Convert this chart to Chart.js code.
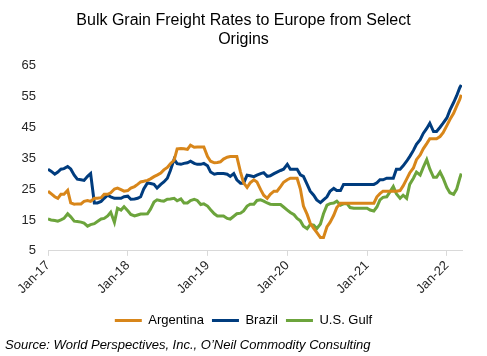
<!DOCTYPE html>
<html><head><meta charset="utf-8">
<script src="https://cdn.jsdelivr.net/npm/chart.js@4/dist/chart.umd.min.js"></script>
<style>
html,body{margin:0;padding:0;background:#fff;}
#wrap{position:relative;width:487px;height:356px;overflow:hidden;}
#c{position:absolute;left:0;top:0;}
#source{position:absolute;left:5px;top:337px;font:italic 13px "Liberation Sans",Arial,sans-serif;color:#000;white-space:nowrap;}
</style></head><body>
<div id="wrap"><canvas id="c" width="487" height="356" style="width:487px;height:356px"></canvas><div id="source">Source: World Perspectives, Inc., O’Neil Commodity Consulting</div></div>
<script>
// Semi-monthly observation dates (1st and 15th), Jan 2017 - Mar 2022, plus last reading
const dates = [];
for (let y = 2017; y <= 2022; y++) {
  for (let m = 1; m <= 12; m++) {
    for (const d of [1, 15]) {
      if (y === 2022 && (m > 3 || (m === 3 && d > 1))) continue;
      dates.push(y + '-' + String(m).padStart(2, '0') + '-' + String(d).padStart(2, '0'));
    }
  }
}
dates.push('2022-03-08');

const argentina = [
  24.3, 23.5, 22.5, 22, 23.3, 23.3, 24.6, 20.5, 20.1, 20.2, 20.2, 21, 21.3, 21, 22, 22, 22.2, 23.3, 23.3, 23.8, 25, 25.3, 24.8, 24.3,
  24.5, 25.3, 25.8, 26.5, 27.3, 27.5, 27.8, 28.3, 29, 29.5, 30.2, 31.2, 32, 33.2, 34.3, 38, 38.1, 38, 37.8, 39.2, 38.5, 38.6, 38.6, 38.6,
  35.5, 34, 33.5, 33.6, 33.8, 34.7, 35.3, 35.5, 35.5, 35.5, 30.5, 27, 25.5, 27, 28, 27.3, 24.8, 23, 22, 23.3, 24.3, 24.3, 25.8, 27.2,
  28, 28.5, 28.5, 28.5, 25, 19.5, 16.8, 14, 12.3, 11, 9.3, 9.3, 12.8, 14.2, 16.5, 19, 20.4, 20.4, 20.4, 20.4, 20.4, 20.4, 20.4, 20.4,
  20.4, 20.4, 20.4, 22.5, 23.5, 24.3, 24.3, 24.3, 24.3, 24.3, 24.5, 26, 28.2, 30.2, 31.8, 34.5, 36, 38, 39.7, 41.3, 41.3, 41.3, 42, 43.2,
  45.5, 47.5, 49.5, 51.8, 54, 55.5
];
const brazil = [
  31.4, 30.8, 29.8, 30.5, 31.4, 31.6, 32.3, 31.5, 29.5, 28.2, 28.0, 27.8, 29.1, 30.0, 20.5, 20.5, 21, 22, 23, 22.5, 22, 22, 22, 22.5,
  22.7, 21.7, 21.8, 22, 22.5, 25, 27, 26.8, 26.5, 25.3, 26.5, 27.3, 28.5, 31, 34.6, 33.2, 33, 33.3, 33.5, 34, 33.3, 33, 33, 33.3,
  32.5, 30.5, 29.8, 30, 30, 30, 29.8, 29.1, 30, 28, 26.9, 26.9, 29.5, 29.3, 29, 29.5, 30, 30.3, 29.1, 29.3, 30, 30.5, 31, 31.4,
  33, 31.4, 31.4, 31.4, 29.6, 29.1, 26.5, 24.3, 23, 21.5, 20.6, 21.5, 22.5, 24.3, 25.2, 24.5, 24.5, 26.5, 26.5, 26.5, 26.5, 26.5, 26.5, 26.5,
  26.5, 26.5, 26.5, 27, 28, 28, 28.5, 28.5, 28.5, 31.4, 31.4, 32.5, 34, 35.5, 37.5, 39.5, 41, 43, 44.6, 46.3, 43.6, 43.6, 45, 46.3,
  48, 50.5, 53, 55.2, 57.8, 58.7
];
const usGulf = [
  15.3, 15, 14.8, 14.6, 15, 15.5, 17, 16, 14.6, 14.5, 14.3, 14, 13, 13.5, 13.8, 14.5, 15.3, 15.5, 16.3, 17.5, 14.2, 18.8, 18.2, 19.3,
  18, 16.8, 16.3, 16.6, 16.9, 16.9, 17, 18.5, 20.8, 21.5, 21.2, 21.1, 21.7, 21.8, 22, 21.2, 21.8, 20.5, 20.5, 21.3, 21.7, 21.3, 20, 20.2,
  19.5, 18.3, 17, 16.3, 16.3, 16.3, 15.5, 15.3, 16.2, 17, 17.2, 17.9, 19.5, 20.1, 20.1, 21.3, 21.5, 21.1, 20.5, 20.1, 20, 20, 20, 19.2,
  18.2, 17.4, 16.7, 15.5, 14.7, 13, 12.2, 13.5, 13.3, 12.2, 13.7, 17, 19.8, 20.3, 20.5, 21.1, 19.8, 20.2, 20.3, 19, 18.8, 18.8, 18.8, 18.8,
  18.8, 18.2, 17.9, 19.2, 21.5, 22.3, 22.5, 24, 25.8, 23.5, 22, 23, 22, 26.5, 28.5, 30.5, 29.5, 32, 34.5, 31.5, 28.8, 28.8, 30.5, 28.5,
  25.5, 23.8, 23.3, 25, 28.5, 30
];
const yearTicks = [2017, 2018, 2019, 2020, 2021, 2022];
const yTicks = [5, 15, 25, 35, 45, 55, 65];

function toYear(s) {
  const [y, m, d] = s.split('-').map(Number);
  const t0 = Date.UTC(y, 0, 1), t1 = Date.UTC(y + 1, 0, 1);
  return y + (Date.UTC(y, m - 1, d) - t0) / (t1 - t0);
}
const xs = dates.map(toYear);
const pts = arr => arr.map((v, i) => ({ x: xs[i], y: v }));

Chart.defaults.font.family = "'Liberation Sans', Arial, sans-serif";
Chart.defaults.font.size = 13;
Chart.defaults.color = '#262626';

const mk = (label, data, color) => ({
  label, data: pts(data), borderColor: color, backgroundColor: color,
  borderWidth: 3, pointRadius: 0, tension: 0, fill: false
});

new Chart(document.getElementById('c'), {
  type: 'line',
  data: {
    datasets: [
      mk('Argentina', argentina, '#D8861A'),
      mk('Brazil', brazil, '#003C7E'),
      mk('U.S. Gulf', usGulf, '#6CA43C')
    ]
  },
  options: {
    responsive: false,
    animation: false,
    events: [],
    layout: { padding: { left: 16, right: 16, top: 11, bottom: 19 } },
    plugins: {
      title: {
        display: true,
        text: ['Bulk Grain Freight Rates to Europe from Select', 'Origins'],
        color: '#000',
        font: { size: 16, weight: 'normal' },
        padding: { top: 0, bottom: 16 }
      },
      legend: {
        position: 'bottom',
        labels: {
          usePointStyle: true, pointStyle: 'line', pointStyleWidth: 27,
          color: '#000', padding: 8, font: { size: 13 }
        }
      },
      tooltip: { enabled: false }
    },
    scales: {
      x: {
        type: 'linear', min: 2017, max: 2022.19,
        afterBuildTicks: s => { s.ticks = yearTicks.map(v => ({ value: v })); },
        afterFit: s => { s.height = s.height + 7; },
        ticks: { callback: v => 'Jan-' + String(v).slice(2), minRotation: 45, maxRotation: 45, padding: 2, color: '#262626' },
        grid: { drawOnChartArea: false, drawTicks: true, tickLength: 5, color: '#D9D9D9' },
        border: { color: '#D9D9D9', width: 1 }
      },
      y: {
        min: 5, max: 65,
        afterBuildTicks: s => { s.ticks = yTicks.map(v => ({ value: v })); },
        afterFit: s => { s.width = 32; },
        ticks: { padding: 12, color: '#262626' },
        grid: { display: false, drawTicks: false, tickLength: 0 },
        border: { display: false }
      },
      spacer: {
        type: 'linear', position: 'right', display: true,
        afterFit: s => { s.width = 9; },
        ticks: { display: false },
        grid: { display: false, drawTicks: false },
        border: { display: false }
      }
    }
  }
});
</script>
</body></html>
